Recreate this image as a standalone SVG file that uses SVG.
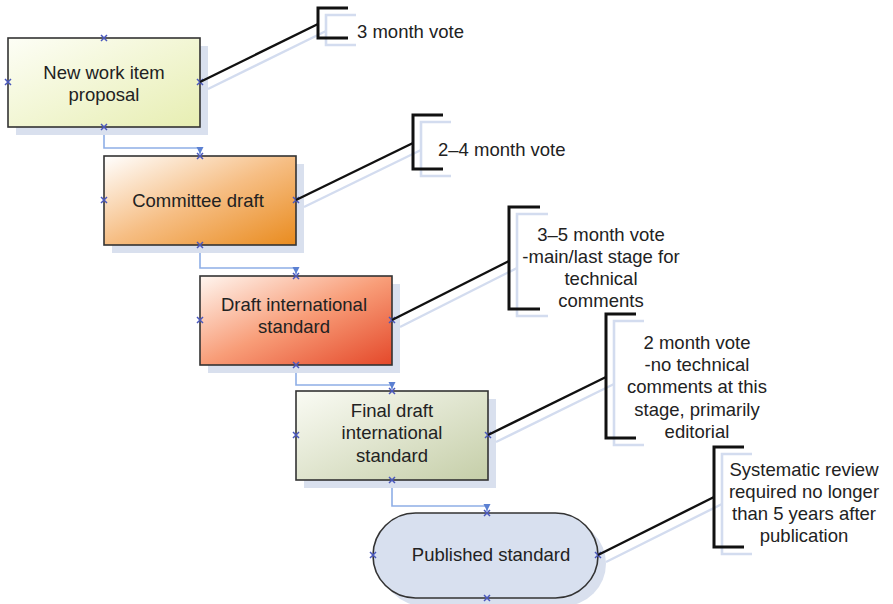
<svg xmlns="http://www.w3.org/2000/svg" width="893" height="604" viewBox="0 0 893 604">
  <defs>
    <linearGradient id="gYellow" x1="0" y1="0" x2="1" y2="1">
      <stop offset="0" stop-color="#fdfef6"/>
      <stop offset="1" stop-color="#e7eeb2"/>
    </linearGradient>
    <linearGradient id="gOrange" x1="0" y1="0" x2="1" y2="1">
      <stop offset="0" stop-color="#ffffff"/>
      <stop offset="0.5" stop-color="#f6be84"/>
      <stop offset="1" stop-color="#e98b1e"/>
    </linearGradient>
    <linearGradient id="gRed" x1="0" y1="0" x2="1" y2="1">
      <stop offset="0" stop-color="#fff6f0"/>
      <stop offset="0.5" stop-color="#f89d78"/>
      <stop offset="1" stop-color="#e4482a"/>
    </linearGradient>
    <linearGradient id="gOlive" x1="0" y1="0" x2="1" y2="1">
      <stop offset="0" stop-color="#fafbf4"/>
      <stop offset="1" stop-color="#c5cea8"/>
    </linearGradient>
    <marker id="arrow" viewBox="0 0 10 10" refX="5" refY="10" markerWidth="9" markerHeight="7" orient="0" markerUnits="userSpaceOnUse">
      <path d="M0,0 L10,0 L5,10 Z" fill="#5b80d2"/>
    </marker>
    <path id="xmark" d="M-3,-3 L3,3 M-3,3 L3,-3"/>
  </defs>
  <style>
    .shadow { fill: #d9e0ee; }
    .box { stroke: #333333; stroke-width: 1.6; }
    .label { font-family: "Liberation Sans", Arial, sans-serif; font-size: 18.5px; fill: #222222; }
    .mid { text-anchor: middle; }
    .flow { fill: none; stroke: #8eaee6; stroke-width: 1.6; }
    .lead { fill: none; stroke: #111111; stroke-width: 2.4; }
    .leadShadow { fill: none; stroke: #d3dcef; stroke-width: 2.4; }
    .brace { fill: none; stroke: #111111; stroke-width: 3; }
    .braceShadow { fill: none; stroke: #d3dcef; stroke-width: 2.6; }
    .pin use { stroke: #4a58bd; stroke-width: 1.5; fill: none; }
  </style>

  <rect width="893" height="604" fill="#ffffff"/>

  <!-- flow connectors between stages -->
  <g id="connectors">
    <path class="flow" d="M104,127 V148 H200 V154" marker-end="url(#arrow)"/>
    <path class="flow" d="M200,245 V268 H296 V274" marker-end="url(#arrow)"/>
    <path class="flow" d="M296,365 V385 H392 V389" marker-end="url(#arrow)"/>
    <path class="flow" d="M392,480 V506 H487 V511" marker-end="url(#arrow)"/>
  </g>

  <!-- stage 1 -->
  <g id="nwip">
    <rect class="shadow" x="16" y="46" width="192" height="89"/>
    <rect class="box" x="8" y="38" width="192" height="89" fill="url(#gYellow)"/>
    <text class="label mid" x="104" y="79">New work item</text>
    <text class="label mid" x="104" y="101">proposal</text>
    <g class="pin">
      <use href="#xmark" x="104" y="38"/><use href="#xmark" x="104" y="127"/>
      <use href="#xmark" x="8" y="82"/><use href="#xmark" x="200" y="82"/>
    </g>
  </g>

  <!-- stage 2 -->
  <g id="cd">
    <rect class="shadow" x="112" y="164" width="192" height="89"/>
    <rect class="box" x="104" y="156" width="192" height="89" fill="url(#gOrange)"/>
    <text class="label mid" x="198" y="206.5">Committee draft</text>
    <g class="pin">
      <use href="#xmark" x="200" y="156"/><use href="#xmark" x="200" y="245"/>
      <use href="#xmark" x="104" y="200"/><use href="#xmark" x="296" y="200"/>
    </g>
  </g>

  <!-- stage 3 -->
  <g id="dis">
    <rect class="shadow" x="208" y="284" width="192" height="89"/>
    <rect class="box" x="200" y="276" width="192" height="89" fill="url(#gRed)"/>
    <text class="label mid" x="294" y="311">Draft international</text>
    <text class="label mid" x="294" y="333">standard</text>
    <g class="pin">
      <use href="#xmark" x="296" y="276"/><use href="#xmark" x="296" y="365"/>
      <use href="#xmark" x="200" y="320"/><use href="#xmark" x="392" y="320"/>
    </g>
  </g>

  <!-- stage 4 -->
  <g id="fdis">
    <rect class="shadow" x="304" y="399" width="192" height="89"/>
    <rect class="box" x="296" y="391" width="192" height="89" fill="url(#gOlive)"/>
    <text class="label mid" x="392" y="416.5">Final draft</text>
    <text class="label mid" x="392" y="439">international</text>
    <text class="label mid" x="392" y="461.5">standard</text>
    <g class="pin">
      <use href="#xmark" x="392" y="391"/><use href="#xmark" x="392" y="480"/>
      <use href="#xmark" x="296" y="435"/><use href="#xmark" x="488" y="435"/>
    </g>
  </g>

  <!-- stage 5 -->
  <g id="published">
    <rect class="shadow" x="381" y="521" width="225" height="85" rx="42.5"/>
    <rect class="box" x="373" y="513" width="225" height="85" rx="42.5" fill="#d8e0ef"/>
    <text class="label mid" x="491" y="561">Published standard</text>
    <g class="pin">
      <use href="#xmark" x="487" y="513"/><use href="#xmark" x="487" y="598"/>
      <use href="#xmark" x="373" y="555"/><use href="#xmark" x="598" y="555"/>
    </g>
  </g>

  <!-- annotations -->
  <g id="note1">
    <path class="leadShadow" d="M208,89 L326,31"/>
    <path class="braceShadow" d="M356,15 H326 V45 H356"/>
    <path class="lead" d="M200,82 L318,24"/>
    <path class="brace" d="M348,8 H318 V38 H348"/>
    <text class="label" x="357" y="37.5">3 month vote</text>
  </g>

  <g id="note2">
    <path class="leadShadow" d="M304,207 L421,150"/>
    <path class="braceShadow" d="M451,122 H421 V176 H451"/>
    <path class="lead" d="M296,200 L413,143"/>
    <path class="brace" d="M443,115 H413 V169 H443"/>
    <text class="label" x="438" y="156">2–4 month vote</text>
  </g>

  <g id="note3">
    <path class="leadShadow" d="M400,327 L517,268"/>
    <path class="braceShadow" d="M548,214 H517 V316 H548"/>
    <path class="lead" d="M392,320 L509,261"/>
    <path class="brace" d="M540,207 H509 V309 H540"/>
    <text class="label mid" x="601" y="240.5">3–5 month vote</text>
    <text class="label mid" x="601" y="262.5">-main/last stage for</text>
    <text class="label mid" x="601" y="284.5">technical</text>
    <text class="label mid" x="601" y="306.5">comments</text>
  </g>

  <g id="note4">
    <path class="leadShadow" d="M496,442 L614,384"/>
    <path class="braceShadow" d="M644,321 H614 V445 H644"/>
    <path class="lead" d="M488,435 L606,377"/>
    <path class="brace" d="M636,314 H606 V438 H636"/>
    <text class="label mid" x="697" y="348.5">2 month vote</text>
    <text class="label mid" x="697" y="371">-no technical</text>
    <text class="label mid" x="697" y="393">comments at this</text>
    <text class="label mid" x="697" y="415.5">stage, primarily</text>
    <text class="label mid" x="697" y="438">editorial</text>
  </g>

  <g id="note5">
    <path class="leadShadow" d="M606,562 L722,504"/>
    <path class="braceShadow" d="M752,454 H722 V554 H752"/>
    <path class="lead" d="M598,555 L714,497"/>
    <path class="brace" d="M744,447 H714 V547 H744"/>
    <text class="label mid" x="804" y="476">Systematic review</text>
    <text class="label mid" x="804" y="498">required no longer</text>
    <text class="label mid" x="804" y="520">than 5 years after</text>
    <text class="label mid" x="804" y="542">publication</text>
  </g>
</svg>
